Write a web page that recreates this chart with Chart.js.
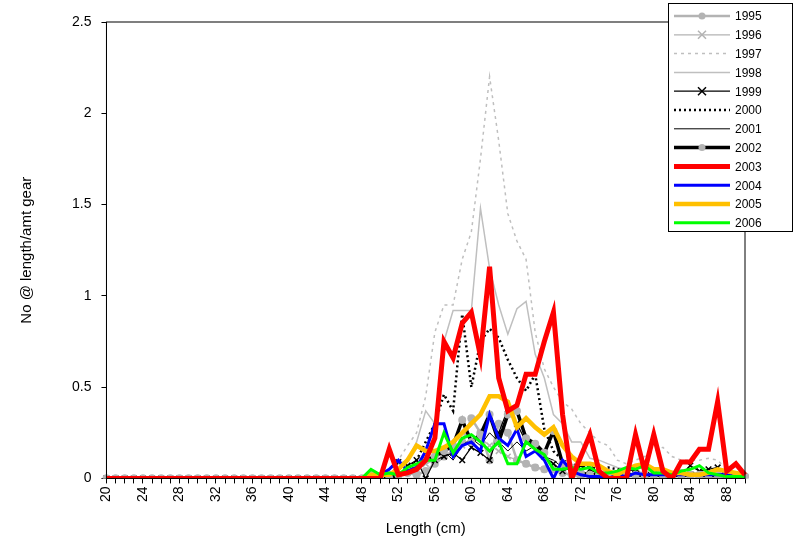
<!DOCTYPE html>
<html>
<head>
<meta charset="utf-8">
<script src="https://cdn.jsdelivr.net/npm/chart.js@4.4.1/dist/chart.umd.min.js"></script>
<style>
  body { margin: 0; background: #fff; }
  #wrap { width: 801px; height: 542px; }
</style>
</head>
<body>
<div id="wrap"><canvas id="c"></canvas></div>
<script>
// lengths 20..90 cm
const lengths = [];
for (let l = 20; l <= 90; l++) lengths.push(l);

// values from 48 cm onward (everything below 48 is zero)
const pad = new Array(28).fill(0);
const v1995 = pad.concat([0,0.02,0.01,0.02,0.02,0.03,0.02,0.04,0.08,0.12,0.15,0.2,0.33,0.25,0.1,0.3,0.25,0.1,0.08,0.06,0.05,0.05,0.03,0.02,0.01,0.02,0.02,0.01,0.02,0.03,0.02,0.01,0.02,0.01,0.02,0.03,0.02,0.01,0.01,0.01,0.01,0.01,0.01]);
const v1996 = pad.concat([0,0.01,0.01,0.02,0.02,0.03,0.05,0.08,0.1,0.12,0.15,0.18,0.2,0.22,0.18,0.15,0.12,0.1,0.08,0.06,0.05,0.04,0.03,0.02,0.02,0.01,0.01,0.02,0.01,0.01,0.01,0.01,0.01,0.01,0.01,0.01,0.01,0.01,0.01,0.01,0.01,0.01,0]);
const v1997 = pad.concat([0,0.01,0.02,0.05,0.1,0.18,0.25,0.45,0.8,0.95,0.95,1.2,1.35,1.75,2.2,1.85,1.45,1.3,1.2,0.8,0.6,0.5,0.42,0.38,0.3,0.25,0.2,0.18,0.1,0.08,0.1,0.12,0.15,0.17,0.12,0.1,0.1,0.1,0.11,0.1,0.05,0.02,0]);
const v1998 = pad.concat([0,0.01,0.02,0.05,0.08,0.1,0.2,0.37,0.3,0.75,0.92,0.92,0.92,1.48,1.15,0.95,0.79,0.93,0.97,0.68,0.55,0.35,0.3,0.2,0.2,0.11,0.1,0.08,0.06,0.05,0.04,0.03,0.03,0.03,0.03,0.03,0.03,0.03,0.03,0.03,0.03,0.02,0.01]);
const v1999 = pad.concat([0,0,0.01,0,0.09,0.07,0.1,0,0.1,0.12,0.14,0.1,0.17,0.14,0.1,0.25,0.38,0.3,0.2,0.18,0.12,0.08,0.04,0.06,0.07,0.05,0.02,0,0,0.04,0.05,0.07,0.04,0.02,0.01,0.02,0.07,0.04,0.05,0.06,0.02,0,0]);
const v2000 = pad.concat([0,0,0,0,0.02,0.05,0.1,0.2,0.3,0.46,0.37,0.9,0.5,0.75,0.82,0.77,0.65,0.55,0.48,0.57,0.27,0.15,0.1,0.08,0.06,0.06,0.05,0.06,0.05,0.04,0.04,0.03,0.03,0.03,0.03,0.03,0.03,0.03,0.03,0.03,0.02,0.01,0]);
const v2001 = pad.concat([0,0,0.01,0.02,0.03,0.05,0.06,0.1,0.12,0.15,0.1,0.18,0.22,0.18,0.25,0.2,0.15,0.2,0.15,0.18,0.12,0.1,0.06,0.04,0.03,0.02,0.02,0.01,0.01,0.02,0.01,0.01,0.01,0.01,0.01,0.01,0.01,0.01,0.01,0.01,0.01,0,0]);
const v2002 = pad.concat([0,0,0,0,0.02,0.04,0.06,0.1,0.12,0.15,0.18,0.32,0.2,0.24,0.35,0.2,0.35,0.37,0.22,0.19,0.14,0.26,0.08,0.06,0.03,0.02,0.02,0.02,0.02,0.02,0.02,0.02,0.02,0.02,0.02,0.02,0.02,0.02,0.02,0.02,0.02,0.01,0.01]);
const v2003 = pad.concat([0,0,0,0.16,0.02,0.03,0.05,0.1,0.22,0.75,0.66,0.85,0.91,0.67,1.16,0.55,0.37,0.4,0.57,0.57,0.75,0.91,0.35,0,0.12,0.24,0.04,0,0,0,0.24,0.04,0.24,0.04,0,0.09,0.09,0.16,0.16,0.42,0.04,0.08,0.02]);
const v2004 = pad.concat([0,0,0.02,0.05,0.1,0.04,0.06,0.15,0.3,0.3,0.12,0.18,0.2,0.15,0.35,0.22,0.18,0.27,0.12,0.15,0.1,0,0.1,0.04,0.02,0.01,0.01,0,0.02,0.01,0.03,0.02,0.02,0.02,0.02,0.02,0.02,0.02,0.02,0.02,0.02,0.01,0.01]);
const v2005 = pad.concat([0,0.02,0.02,0.02,0.05,0.1,0.18,0.15,0.15,0.17,0.2,0.25,0.3,0.35,0.45,0.45,0.42,0.28,0.33,0.28,0.24,0.28,0.18,0.12,0.08,0.08,0.07,0.04,0.02,0.05,0.07,0.08,0.05,0.05,0.03,0.03,0.02,0.02,0.03,0.05,0.04,0.03,0.02]);
const v2006 = pad.concat([0,0.05,0.02,0.03,0.02,0.06,0.08,0.1,0.1,0.25,0.14,0.22,0.24,0.2,0.15,0.2,0.08,0.08,0.2,0.16,0.13,0.05,0.05,0.06,0.05,0.06,0.03,0.03,0.04,0.06,0.05,0.07,0.03,0.03,0.02,0.04,0.05,0.07,0.03,0.02,0.01,0.01,0.01]);

const years = ["1995","1996","1997","1998","1999","2000","2001","2002","2003","2004","2005","2006"];
const series = [v1995,v1996,v1997,v1998,v1999,v2000,v2001,v2002,v2003,v2004,v2005,v2006];
const yTicks = [0, 0.5, 1, 1.5, 2, 2.5];

const styles = [
  { c: "#b3b3b3", w: 2.5, p: "circle", r: 4 },
  { c: "#b3b3b3", w: 1.2, p: "crossRot", r: 4 },
  { c: "#bfbfbf", w: 1.5, d: [3, 4] },
  { c: "#bfbfbf", w: 1.5 },
  { c: "#000000", w: 1.2, p: "crossRot", r: 4 },
  { c: "#000000", w: 2.5, d: [2, 3] },
  { c: "#000000", w: 1 },
  { c: "#000000", w: 3.5, p: "circle", r: 4, pc: "#b3b3b3" },
  { c: "#ff0000", w: 5 },
  { c: "#0000ff", w: 3 },
  { c: "#ffc000", w: 4.5 },
  { c: "#00ff00", w: 3 }
];

const datasets = years.map((y, i) => {
  const s = styles[i];
  return {
    label: y,
    data: series[i],
    borderColor: s.c,
    borderWidth: s.w,
    borderDash: s.d || [],
    pointStyle: s.p || false,
    pointRadius: s.p ? s.r : 0,
    pointBackgroundColor: s.pc || s.c,
    pointBorderColor: s.pc || s.c,
    pointBorderWidth: s.p === "crossRot" ? 1.5 : 0,
    tension: 0,
    order: i === 8 ? 0 : 12 - i
  };
});

const frameAndLegend = {
  id: "frameAndLegend",
  afterDraw(chart) {
    const ctx = chart.ctx;
    const a = chart.chartArea;
    ctx.save();
    ctx.strokeStyle = "#000";
    ctx.lineWidth = 1;
    ctx.strokeRect(a.left, a.top, a.right - a.left, a.bottom - a.top);

    // legend box
    const bx = 668, by = 3, bw = 124, bh = 228, rowH = 18.8;
    ctx.fillStyle = "#fff";
    ctx.fillRect(bx, by, bw, bh);
    ctx.strokeRect(bx + 0.5, by + 0.5, bw, bh);
    ctx.font = "12px 'Liberation Sans', Arial, sans-serif";
    ctx.textBaseline = "middle";
    chart.data.datasets.forEach((ds, i) => {
      const yy = by + 13 + i * rowH;
      ctx.strokeStyle = ds.borderColor;
      ctx.lineWidth = ds.borderWidth;
      ctx.setLineDash(ds.borderDash);
      ctx.beginPath();
      ctx.moveTo(674, yy);
      ctx.lineTo(730, yy);
      ctx.stroke();
      ctx.setLineDash([]);
      if (ds.pointStyle) {
        const mx = 702;
        if (ds.pointStyle === "circle") {
          ctx.fillStyle = ds.pointBackgroundColor;
          ctx.beginPath();
          ctx.arc(mx, yy, 3.5, 0, Math.PI * 2);
          ctx.fill();
        } else {
          ctx.strokeStyle = ds.borderColor;
          ctx.lineWidth = 1.5;
          ctx.beginPath();
          ctx.moveTo(mx - 4, yy - 4); ctx.lineTo(mx + 4, yy + 4);
          ctx.moveTo(mx + 4, yy - 4); ctx.lineTo(mx - 4, yy + 4);
          ctx.stroke();
        }
      }
      ctx.fillStyle = "#000";
      ctx.fillText(ds.label, 735, yy + 1);
    });
    ctx.restore();
  }
};

Chart.defaults.font.family = "'Liberation Sans', Arial, sans-serif";
Chart.defaults.color = "#000";

new Chart(document.getElementById("c"), {
  type: "line",
  data: { labels: lengths, datasets: datasets },
  options: {
    responsive: true,
    maintainAspectRatio: false,
    animation: false,
    layout: { padding: { top: 22, right: 56, left: 14, bottom: 0 } },
    plugins: { legend: { display: false }, tooltip: { enabled: false } },
    scales: {
      x: {
        type: "category",
        offset: false,
        grid: { drawOnChartArea: false, color: "#000", tickLength: 5 },
        border: { color: "#000" },
        ticks: {
          autoSkip: false,
          maxRotation: 90,
          minRotation: 90,
          font: { size: 14 },
          callback: function (v) {
            const l = lengths[v];
            return (l - 20) % 4 === 0 && l < 90 ? String(l) : "";
          }
        },
        title: { display: true, text: "Length (cm)", font: { size: 15 }, padding: { top: 15, bottom: 4 } }
      },
      y: {
        min: 0,
        max: 2.5,
        afterBuildTicks: (s) => { s.ticks = yTicks.map(v => ({ value: v })); },
        grid: { drawOnChartArea: false, color: "#000", tickLength: 5 },
        border: { color: "#000" },
        ticks: { font: { size: 14 }, padding: 10, callback: (v) => String(v) },
        title: { display: true, text: "No @ length/amt gear", font: { size: 15 }, padding: { bottom: 26 } }
      }
    }
  },
  plugins: [frameAndLegend]
});
</script>
</body>
</html>
